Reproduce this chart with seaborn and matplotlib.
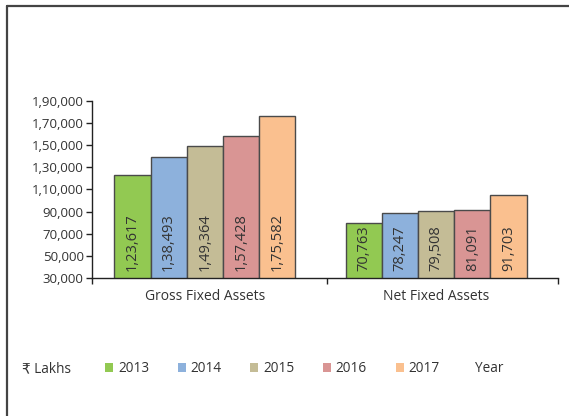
import matplotlib
matplotlib.use("Agg")
import matplotlib.pyplot as plt
import matplotlib.ticker as mticker
from matplotlib.lines import Line2D
import seaborn as sns
import pandas as pd

categories = ["Gross Fixed Assets", "Net Fixed Assets"]
years = ["2013", "2014", "2015", "2016", "2017"]
# bar heights as drawn in the picture
gross_heights = [122900, 139200, 149700, 158100, 176800]
net_heights = [79900, 88600, 90400, 91600, 104900]
# value labels printed inside bars
gross_labels = ["1,23,617", "1,38,493", "1,49,364", "1,57,428", "1,75,582"]
net_labels = ["70,763", "78,247", "79,508", "81,091", "91,703"]
colors = ["#92C952", "#8DB1DC", "#C4BC96", "#D99594", "#FAC08F"]
yticks = [30000, 50000, 70000, 90000, 110000, 130000, 150000, 170000, 190000]
ytick_labels = ["30,000", "50,000", "70,000", "90,000", "1,10,000", "1,30,000",
                "1,50,000", "1,70,000", "1,90,000"]

sns.set_style("white")
plt.rcParams["font.family"] = ["Open Sans", "DejaVu Sans"]
TXT = "#333333"

df = pd.DataFrame({
    "Category": [categories[0]] * 5 + [categories[1]] * 5,
    "Year": years * 2,
    "Value": gross_heights + net_heights,
    "Label": gross_labels + net_labels,
})

fig = plt.figure(figsize=(5.69, 4.16), dpi=100)
ax = fig.add_axes([92 / 569, 1 - 278 / 416, (558 - 92) / 569, (278 - 101) / 416])

sns.barplot(data=df, x="Category", y="Value", hue="Year", hue_order=years,
            palette=colors, width=0.78, gap=0, edgecolor="#4a4a4a", linewidth=1.0,
            saturation=1, ax=ax, legend=True)

ax.set_ylim(30000, 190000)
ax.set_xlim(-0.487, 1.526)
ax.set_yticks(yticks)
ax.set_yticklabels(ytick_labels)
ax.set_xlabel("")
ax.set_ylabel("")

# value labels
for cont, yr in zip(ax.containers, years):
    for rect, cat in zip(cont, categories):
        lab = df[(df.Category == cat) & (df.Year == yr)]["Label"].iloc[0]
        ax.text(rect.get_x() + rect.get_width() / 2, 36500, lab, rotation=90,
                ha="center", va="bottom", fontsize=10.5, color=TXT)

for s in ["top", "right"]:
    ax.spines[s].set_visible(False)
for s in ["left", "bottom"]:
    ax.spines[s].set_color("#222222")
    ax.spines[s].set_linewidth(1.0)

ax.tick_params(axis="y", which="major", left=True, length=4, width=1,
               color="#222222", labelsize=9.5, labelcolor=TXT, pad=2)
ax.set_xticks([0, 1])
ax.set_xticklabels(categories)
ax.tick_params(axis="x", which="major", length=0, labelsize=10, labelcolor=TXT, pad=8)
ax.xaxis.set_minor_locator(mticker.FixedLocator([-0.487, 0.527, 1.526]))
ax.tick_params(axis="x", which="minor", bottom=True, length=4, width=1, color="#222222")

# legend
handles, labels = ax.get_legend_handles_labels()
ax.legend_.remove()
leg = fig.legend(handles, labels, loc="center left", bbox_to_anchor=(105 / 569, 1 - 369 / 416),
                 ncol=5, frameon=False, fontsize=9.8, handlelength=0.6, handleheight=0.6,
                 handletextpad=0.35, columnspacing=2.1, borderpad=0, borderaxespad=0)
for t in leg.get_texts():
    t.set_color(TXT)
for h in leg.legend_handles:
    h.set_edgecolor("none")

fig.text(22 / 569, 1 - 369 / 416, "₹ Lakhs", ha="left", va="center", fontsize=9.8,
         color=TXT, family=["Open Sans", "DejaVu Sans"])
fig.text(475 / 569, 1 - 369 / 416, "Year", ha="left", va="center", fontsize=9.8, color=TXT)

# outer frame (top and left)
fig.add_artist(Line2D([6.5 / 569, 1.0], [1 - 5.5 / 416, 1 - 5.5 / 416], transform=fig.transFigure,
                      color="#444444", linewidth=1.6))
fig.add_artist(Line2D([6.5 / 569, 6.5 / 569], [0, 1 - 5.5 / 416], transform=fig.transFigure,
                      color="#444444", linewidth=1.6))

fig.savefig("out.png", dpi=100)
